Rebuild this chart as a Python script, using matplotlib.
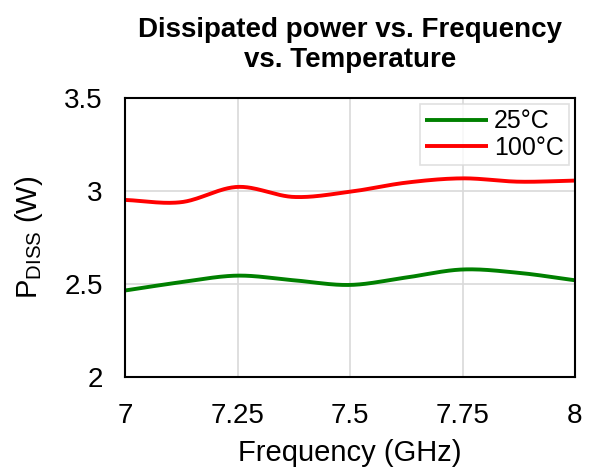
import numpy as np
import matplotlib as mpl
import matplotlib.pyplot as plt

mpl.rcParams['font.family'] = ['Liberation Sans', 'DejaVu Sans']

freq = [7.0, 7.125, 7.25, 7.375, 7.5, 7.625, 7.75, 7.875, 8.0]
pdiss_25c = [2.465, 2.51, 2.545, 2.52, 2.495, 2.535, 2.578, 2.56, 2.52]
pdiss_100c = [2.952, 2.94, 3.022, 2.968, 2.996, 3.045, 3.068, 3.05, 3.056]


def smooth(x, y, n=30):
    # catmull-rom through the points, like a spreadsheet "smoothed line"
    x = np.asarray(x, float)
    y = np.asarray(y, float)
    px = np.concatenate([[2 * x[0] - x[1]], x, [2 * x[-1] - x[-2]]])
    py = np.concatenate([[2 * y[0] - y[1]], y, [2 * y[-1] - y[-2]]])
    t = np.linspace(0, 1, n)[:, None]
    xs, ys = [], []
    for i in range(1, len(px) - 2):
        for p, out in ((px, xs), (py, ys)):
            p0, p1, p2, p3 = p[i - 1], p[i], p[i + 1], p[i + 2]
            seg = 0.5 * ((2 * p1) + (-p0 + p2) * t
                         + (2 * p0 - 5 * p1 + 4 * p2 - p3) * t ** 2
                         + (-p0 + 3 * p1 - 3 * p2 + p3) * t ** 3)
            out.append(seg.ravel())
    return np.concatenate(xs), np.concatenate(ys)


fig = plt.figure(figsize=(5.9, 4.71), dpi=100)
ax = fig.add_axes([125 / 590, 1 - 377 / 471, 450 / 590, 279 / 471])

x, y = smooth(freq, pdiss_25c)
ax.plot(x, y, color='#008000', lw=2.8, label='25°C', solid_capstyle='butt')
x, y = smooth(freq, pdiss_100c)
ax.plot(x, y, color='#ff0000', lw=2.8, label='100°C', solid_capstyle='butt')

ax.set_xlim(7, 8)
ax.set_ylim(2, 3.5)
ax.set_xticks([7, 7.25, 7.5, 7.75, 8])
ax.set_xticklabels(['7', '7.25', '7.5', '7.75', '8'])
ax.set_yticks([2, 2.5, 3, 3.5])
ax.set_yticklabels(['2', '2.5', '3', '3.5'])
ax.tick_params(length=0, labelsize=20, pad=19)
ax.tick_params(axis='y', pad=16)
ax.grid(True, color='#d9d9d9', lw=1.2)
ax.set_axisbelow(True)
for s in ax.spines.values():
    s.set_linewidth(1.5)
    s.set_color('black')

ax.set_xlabel('Frequency (GHz)', fontsize=21, labelpad=7)
ax.set_ylabel(r'P$_{\mathregular{DISS}}$ (W)', fontsize=21, labelpad=14)
ax.set_title('Dissipated power vs. Frequency\nvs. Temperature',
             fontsize=20, fontweight='bold', pad=22, linespacing=1.2)

leg = ax.legend(loc='upper right', fontsize=18, frameon=True, fancybox=False,
                handlelength=2.5, borderpad=0.2, labelspacing=0.1,
                handletextpad=0.25, borderaxespad=0.25)
leg.get_frame().set_edgecolor('#d9d9d9')
leg.get_frame().set_linewidth(1.2)

fig.savefig('out.png', dpi=100)
